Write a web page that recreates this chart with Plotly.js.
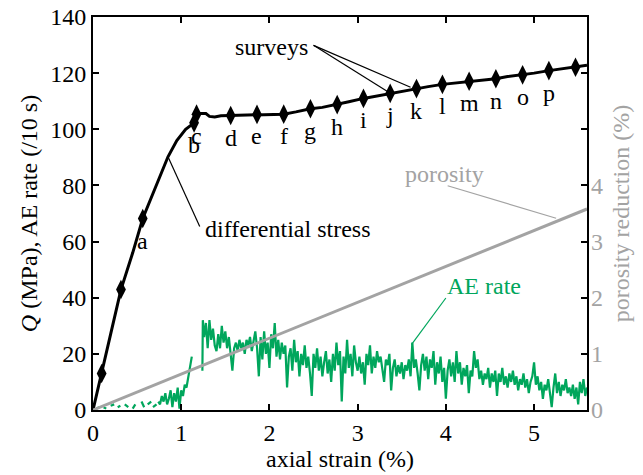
<!DOCTYPE html>
<html>
<head>
<meta charset="utf-8">
<script src="https://cdn.plot.ly/plotly-3.0.1.min.js"></script>
<style>html,body{margin:0;padding:0;background:#fff;}#chart{width:643px;height:475px;}</style>
</head>
<body>
<div id="chart"></div>
<script>
// Differential stress curve
const stressStrain = [0, 0.05, 0.098, 0.2, 0.317, 0.45, 0.564, 0.65, 0.75, 0.85, 0.95, 1.05, 1.146, 1.174, 1.22, 1.28, 1.32, 1.38, 1.45, 1.561, 1.7, 1.859, 2.0, 2.162, 2.3, 2.465, 2.6, 2.768, 2.9, 3.066, 3.2, 3.369, 3.5, 3.667, 3.8, 3.961, 4.1, 4.264, 4.4, 4.567, 4.7, 4.87, 5.0, 5.168, 5.3, 5.47, 5.6];
const stressQ = [0, 6.5, 13, 27, 42.9, 56, 68.2, 75, 83, 90.2, 96, 100, 102.3, 105.4, 105.6, 105.6, 104.6, 104.4, 104.8, 104.9, 105.1, 105.3, 105.2, 105.4, 106.2, 107.3, 107.8, 108.8, 109.8, 111.0, 111.8, 112.8, 113.6, 114.5, 115.2, 116.0, 116.5, 117.1, 117.5, 118.0, 118.8, 119.4, 120.0, 120.9, 121.5, 122.1, 122.8];

// Survey points
const surveyStrain = [0.098, 0.317, 0.564, 1.146, 1.174, 1.561, 1.859, 2.162, 2.465, 2.768, 3.066, 3.369, 3.667, 3.961, 4.264, 4.567, 4.87, 5.168, 5.47];
const surveyQ = [13.0, 42.9, 68.2, 102.3, 105.4, 104.9, 105.3, 105.4, 107.3, 108.8, 111.0, 112.8, 114.5, 116.0, 117.1, 118.0, 119.4, 120.9, 122.1];
const surveyLabels = ['', '', 'a', 'b', 'c', 'd', 'e', 'f', 'g', 'h', 'i', 'j', 'k', 'l', 'm', 'n', 'o', 'p', ''];

// Porosity reduction (right axis, %)
const porosityStrain = [0, 5.6];
const porosityReduction = [0, 3.58];

// AE rate (/10 s)
const aeStrain = [0.04,0.07,0.09,0.12,0.15,0.17,0.20,0.24,0.26,0.28,0.31,0.33,0.36,0.40,0.42,0.45,0.48,0.51,0.55,0.58,0.60,0.62,0.66,0.67,0.68,0.72,0.73,
0.74,0.76,0.78,0.80,0.82,0.84,0.86,0.88,0.90,0.92,0.94,0.96,0.98,1.00,1.02,1.04,1.06,1.08,1.10,1.12,1.18,
1.24,1.245,1.26,1.28,1.30,1.32,1.34,1.36,1.38,1.40,1.42,1.44,1.46,1.48,1.50,1.52,1.54,1.56,1.58,1.60,1.62,1.64,1.66,1.68,1.70,1.72,1.74,1.76,1.78,1.80,1.82,1.84,1.86,1.88,1.90,1.92,1.94,1.96,1.98,
2.00,2.02,2.04,2.06,2.08,2.10,2.12,2.14,2.16,2.18,2.20,2.22,2.24,2.26,2.28,2.30,2.32,2.34,2.36,2.38,2.40,2.42,2.44,2.46,2.48,2.50,2.52,2.54,2.56,2.58,2.60,2.62,2.64,2.66,2.68,2.70,2.72,2.74,2.76,2.78,2.80,2.82,2.84,2.86,2.88,2.90,2.92,2.94,2.96,2.98,
3.00,3.02,3.04,3.06,3.08,3.10,3.12,3.14,3.16,3.18,3.20,3.22,3.24,3.26,3.28,3.30,3.32,3.34,3.36,3.38,3.40,3.42,3.44,3.46,3.48,3.50,3.52,3.54,3.56,3.58,3.60,3.62,3.64,3.66,3.68,3.70,3.72,3.74,3.76,3.78,3.80,3.82,3.84,3.86,3.88,3.90,3.92,3.94,3.96,3.98,
4.00,4.02,4.04,4.06,4.08,4.10,4.12,4.14,4.16,4.18,4.20,4.22,4.24,4.26,4.28,4.30,4.32,4.34,4.36,4.38,4.40,4.42,4.44,4.46,4.48,4.50,4.52,4.54,4.56,4.58,4.60,4.62,4.64,4.66,4.68,4.70,4.72,4.74,4.76,4.78,4.80,4.82,4.84,4.86,4.88,4.90,4.92,4.94,4.96,4.98,
5.00,5.02,5.04,5.06,5.08,5.10,5.12,5.14,5.16,5.18,5.20,5.22,5.24,5.26,5.28,5.30,5.32,5.34,5.36,5.38,5.40,5.42,5.44,5.46,5.48,5.50,5.52,5.54,5.56,5.58,5.60];
const aeRate = [0.5,1,null,1,0.5,null,1.5,2,null,1,1.5,null,2,1,null,0.5,2,null,3,1,null,2,3,null,1,2,null,
3,2,5,3,6,2,4,7,1,6,3,8,0.5,7,5,9,8,12,15,19,null,
14,32,26,31,22,32,25,29,23,21,27,22,30,24,28,22,26,20,14,22,24,21,25,22,24,20,25,23,26,21,24,28,22,12,26,18,28,20,24,
15,27,22,31,19,25,18,24,20,23,8,19,22,14,25,17,21,12,20,16,23,15,19,13,5,20,15,22,14,19,12,17,21,13,18,10,20,14,24,16,21,3,19,13,25,15,20,12,23,17,
14,19,13,17,9,20,16,23,13,19,15,21,17,19,14,10,18,16,20,7,15,18,12,16,13,17,11,16,14,18,12,24,15,18,13,7,16,20,14,19,11,18,15,21,9,17,13,19,10,15,
4,14,18,12,17,10,21,13,17,9,15,12,16,6,14,12,21,15,18,11,14,9,13,11,15,8,13,10,14,5,13,10,15,9,12,8,13,10,14,9,12,7,11,9,13,8,11,6,10,12,
17,9,12,7,10,4,9,7,11,5,1,8,13,6,10,5,9,7,11,6,8,5,9,4,8,2,10,6,11,5,8];

const serif = 'Liberation Serif, Times New Roman, serif';
const fs = 24;
const gray = '#a3a3a3';
const green = '#00a65c';

const traces = [
  {x: porosityStrain, y: porosityReduction, yaxis: 'y2', mode: 'lines', line: {color: gray, width: 3}, hoverinfo: 'skip'},
  {x: aeStrain, y: aeRate, mode: 'lines', line: {color: green, width: 2.2}, connectgaps: false, hoverinfo: 'skip'},
  {x: stressStrain, y: stressQ, mode: 'lines', line: {color: '#000', width: 3}, hoverinfo: 'skip'},
  {x: surveyStrain, y: surveyQ, mode: 'markers', marker: {symbol: 'diamond-tall', size: 14, color: '#000'}, hoverinfo: 'skip'}
];

const annotations = surveyLabels.map((t, i) => t ? ({
  x: surveyStrain[i], y: surveyQ[i], xref: 'x', yref: 'y', text: t, showarrow: false,
  yshift: -22, font: {family: serif, size: fs, color: '#000'}
}) : null).filter(a => a);

annotations.push(
  {x: 2.02, y: 129.3, xref: 'x', yref: 'y', text: 'surveys', showarrow: false, font: {family: serif, size: fs, color: '#000'}},
  {x: 2.21, y: 64.4, xref: 'x', yref: 'y', text: 'differential stress', showarrow: false, font: {family: serif, size: fs, color: '#000'}},
  {x: 3.99, y: 84.1, xref: 'x', yref: 'y', text: 'porosity', showarrow: false, font: {family: serif, size: fs, color: gray}},
  {x: 4.43, y: 44.3, xref: 'x', yref: 'y', text: 'AE rate', showarrow: false, font: {family: serif, size: fs, color: green}}
);

const shapes = [
  {type: 'line', xref: 'x', yref: 'y', x0: 2.50, y0: 129.9, x1: 3.37, y1: 112.8, line: {color: '#000', width: 1.2}},
  {type: 'line', xref: 'x', yref: 'y', x0: 2.50, y0: 129.9, x1: 3.60, y1: 115.0, line: {color: '#000', width: 1.2}},
  {type: 'line', xref: 'x', yref: 'y', x0: 1.21, y0: 65.4, x1: 0.85, y1: 90.2, line: {color: '#000', width: 1.2}},
  {type: 'line', xref: 'x', yref: 'y', x0: 4.02, y0: 79.9, x1: 5.25, y1: 68.3, line: {color: gray, width: 1.2}},
  {type: 'line', xref: 'x', yref: 'y', x0: 4.00, y0: 39.9, x1: 3.61, y1: 23.3, line: {color: green, width: 1.2}}
];

const layout = {
  width: 643, height: 475,
  margin: {l: 93, r: 56, t: 17, b: 65},
  paper_bgcolor: '#fff', plot_bgcolor: '#fff',
  showlegend: false,
  font: {family: serif, size: fs, color: '#000'},
  xaxis: {
    range: [0, 5.6], tickvals: [0, 1, 2, 3, 4, 5], ticks: 'inside', ticklen: 6, tickwidth: 2, tickcolor: '#000',
    showline: true, linewidth: 2, linecolor: '#000', mirror: 'ticks', showgrid: false, zeroline: false,
    tickfont: {family: serif, size: fs, color: '#000'},
    title: {text: 'axial strain (%)', font: {family: serif, size: fs, color: '#000'}, standoff: 4}
  },
  yaxis: {
    range: [0, 140], tickvals: [0, 20, 40, 60, 80, 100, 120, 140], ticks: 'inside', ticklen: 6, tickwidth: 2, tickcolor: '#000',
    showline: true, linewidth: 2, linecolor: '#000', mirror: 'ticks', showgrid: false, zeroline: false,
    tickfont: {family: serif, size: fs, color: '#000'},
    title: {text: '<i>Q</i> (MPa), AE rate (/10 s)', font: {family: serif, size: fs, color: '#000'}, standoff: 6}
  },
  yaxis2: {
    overlaying: 'y', side: 'right', range: [0, 7], tickvals: [0, 1, 2, 3, 4], ticks: '',
    showline: false, showgrid: false, zeroline: false, ticklabelstandoff: 3,
    tickfont: {family: serif, size: fs, color: gray},
    title: {text: 'porosity reduction (%)', font: {family: serif, size: fs, color: gray}, standoff: 10}
  },
  annotations: annotations,
  shapes: shapes
};

Plotly.newPlot('chart', traces, layout, {staticPlot: true, displayModeBar: false});
</script>
</body>
</html>
